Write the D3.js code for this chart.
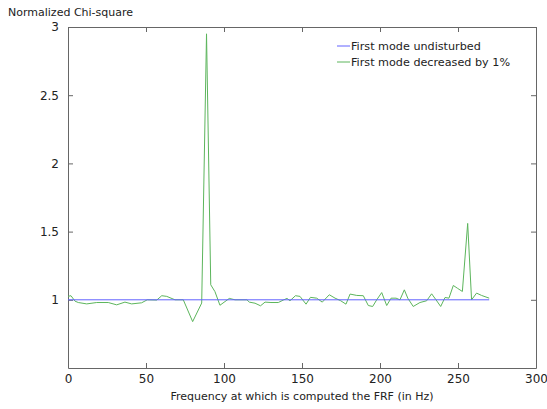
<!DOCTYPE html>
<html>
<head>
<meta charset="utf-8">
<script src="https://cdn.jsdelivr.net/npm/d3@7"></script>
<style>
  body { margin: 0; background: #fff; }
  text { font-family: "DejaVu Sans", "Open Sans", sans-serif; fill: #222; }
</style>
</head>
<body>
<div id="chart"></div>
<script>
// Data
const xTicks = [0, 50, 100, 150, 200, 250, 300];
const yTicks = [1, 1.5, 2, 2.5, 3];

// first mode undisturbed (flat at 1)
const undisturbedFreq = [0, 270];
const undisturbedChi = [1, 1];

// first mode decreased by 1%
const decreasedFreq = [0, 1.9, 4.5, 6.6, 12, 18.4, 25.8, 31.2, 36.5, 40.8, 47.2, 50.8, 56.9, 60.1, 63.3,
  68.6, 73.9, 79.9, 85.7, 88.8, 91.5, 94.2, 97.4, 103.4, 107.1, 114.7, 116.2, 119.9, 123.4, 126.3,
  130.1, 134.8, 138, 140.4, 142.3, 145.8, 148.7, 152.6, 155.4, 159.4, 163, 167.5, 171.2, 174.8,
  178.2, 180.8, 185.1, 189.3, 192.5, 195.3, 197.9, 201.1, 204.3, 207.1, 210.3, 212.8, 215.6, 217.8,
  221.3, 225.6, 229.9, 233.1, 235.9, 238.9, 241.7, 244.2, 247, 249.6, 252.8, 256.2, 258.7, 261.9,
  265.1, 270];
const decreasedChi = [1.025, 1.03, 0.99, 0.98, 0.97, 0.98, 0.98, 0.963, 0.983, 0.97, 0.978, 1.0, 0.998, 1.03, 1.025,
  1.0, 1.0, 0.84, 0.976, 2.95, 1.11, 1.06, 0.96, 1.01, 1.0, 1.0, 0.983, 0.975, 0.956, 0.983,
  0.98, 0.98, 0.998, 1.01, 0.993, 1.03, 1.025, 0.968, 1.018, 1.012, 0.983, 1.037, 1.012, 0.993,
  0.968, 1.042, 1.032, 1.03, 0.958, 0.951, 1.0, 1.053, 0.958, 1.012, 1.012, 1.0, 1.073, 1.012,
  0.951, 0.98, 0.993, 1.044, 1.0, 0.951, 1.017, 1.012, 1.105, 1.085, 1.061, 1.56, 1.0, 1.049,
  1.032, 1.012];

const legendLabels = ["First mode undisturbed", "First mode decreased by 1%"];
const colors = ["#6262ff", "#5cb55c"];

const width = 547, height = 409;
const margin = { left: 68, right: 11, top: 27, bottom: 41 };

const svg = d3.select("#chart").append("svg")
  .attr("width", width)
  .attr("height", height);

const x = d3.scaleLinear().domain([0, 300]).range([margin.left, width - margin.right]);
const y = d3.scaleLinear().domain([0.5, 3]).range([height - margin.bottom, margin.top]);

const axisColor = "#666";

// Axes with inward ticks, mirrored on top/right like MATLAB
function styleAxis(g) {
  g.selectAll("path").attr("stroke", axisColor);
  g.selectAll("line").attr("stroke", axisColor);
  g.selectAll("text").attr("font-size", 12).attr("fill", "#222");
}

svg.append("g")
  .attr("transform", `translate(0,${y.range()[0]})`)
  .call(d3.axisBottom(x).tickValues(xTicks).tickSizeInner(-5).tickSizeOuter(0).tickPadding(6))
  .call(styleAxis);

svg.append("g")
  .attr("transform", `translate(0,${y.range()[1]})`)
  .call(d3.axisTop(x).tickValues(xTicks).tickSizeInner(-5).tickSizeOuter(0).tickFormat(""))
  .call(styleAxis);

svg.append("g")
  .attr("transform", `translate(${x.range()[0]},0)`)
  .call(d3.axisLeft(y).tickValues(yTicks).tickSizeInner(-5).tickSizeOuter(0).tickPadding(9).tickFormat(d3.format("")))
  .call(styleAxis);

svg.append("g")
  .attr("transform", `translate(${x.range()[1]},0)`)
  .call(d3.axisRight(y).tickValues(yTicks).tickSizeInner(-5).tickSizeOuter(0).tickFormat(""))
  .call(styleAxis);

// Lines
const line = d3.line().x(d => x(d[0])).y(d => y(d[1]));

svg.append("path")
  .datum(d3.zip(decreasedFreq, decreasedChi))
  .attr("fill", "none")
  .attr("stroke", colors[1])
  .attr("stroke-width", 1)
  .attr("d", line);

svg.append("path")
  .datum(d3.zip(undisturbedFreq, undisturbedChi))
  .attr("fill", "none")
  .attr("stroke", colors[0])
  .attr("stroke-width", 1)
  .attr("d", line);

// Labels
svg.append("text")
  .attr("x", 8)
  .attr("y", 16)
  .attr("font-size", 11)
  .text("Normalized Chi-square");

svg.append("text")
  .attr("x", (x.range()[0] + x.range()[1]) / 2)
  .attr("y", 400)
  .attr("text-anchor", "middle")
  .attr("font-size", 11)
  .text("Frequency at which is computed the FRF (in Hz)");

// Legend
const legend = svg.append("g").attr("transform", "translate(337,46)");
legendLabels.forEach((label, i) => {
  const row = legend.append("g").attr("transform", `translate(0,${i * 16})`);
  row.append("line")
    .attr("x1", 0).attr("x2", 13)
    .attr("stroke", colors[i]).attr("stroke-width", 1);
  row.append("text")
    .attr("x", 14)
    .attr("dy", "0.35em")
    .attr("font-size", 11.2)
    .text(label);
});
</script>
</body>
</html>
